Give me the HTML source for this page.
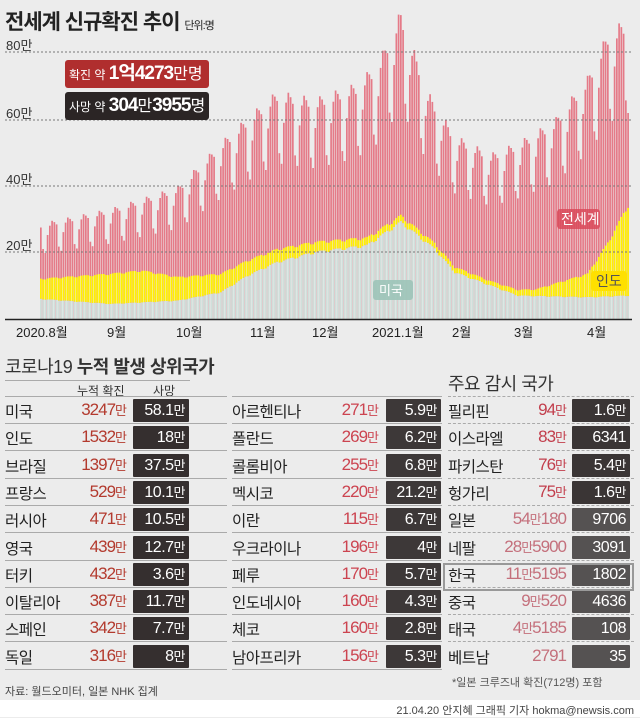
<!DOCTYPE html>
<html><head><meta charset="utf-8">
<style>
*{margin:0;padding:0;box-sizing:border-box}
body{width:640px;height:717px;background:#ececec;font-family:"Liberation Sans","Noto Sans CJK KR",sans-serif;position:relative;overflow:hidden;color:#222}
.a{position:absolute;white-space:nowrap}
.row{position:absolute;height:27px;font-size:15.5px;letter-spacing:-0.5px}
.row .n{position:absolute;left:0;top:3px}
.row .v{position:absolute;top:3px;text-align:right}
.row .b{position:absolute;top:2px;height:23px;color:#fff;text-align:right;padding-right:4px;font-size:16px;line-height:23px;border-radius:1px}
.m{font-size:13px}
</style></head><body>
<div class="a" style="left:5px;top:6px;font-size:21px;font-weight:bold;letter-spacing:-1px;color:#222">전세계 신규확진 추이 <span style="font-size:11px;font-weight:normal">단위:명</span></div>

<svg class="a" style="left:0;top:0" width="640" height="345" id="ch">
<g font-size="13" fill="#333" font-family="Liberation Sans,Noto Sans CJK KR,sans-serif">
<text x="6" y="50">80만</text><text x="6" y="118">60만</text><text x="6" y="184">40만</text><text x="6" y="250">20만</text>
</g>
<g id="bars"></g>
<g stroke="#777" stroke-dasharray="2,2" stroke-width="1">
<line x1="5" y1="52" x2="632" y2="52"/><line x1="5" y1="120" x2="632" y2="120"/><line x1="5" y1="186" x2="632" y2="186"/><line x1="5" y1="252" x2="632" y2="252"/>
</g>
<line x1="5" y1="319.5" x2="632" y2="319.5" stroke="#222" stroke-width="1.5"/>
<g font-size="13" fill="#222" font-family="Liberation Sans,Noto Sans CJK KR,sans-serif">
<text x="16" y="337">2020.8월</text><text x="107" y="337">9월</text><text x="176" y="337">10월</text><text x="250" y="337">11월</text><text x="312" y="337">12월</text><text x="372" y="337">2021.1월</text><text x="452" y="337">2월</text><text x="514" y="337">3월</text><text x="587" y="337">4월</text>
</g>
<rect x="557" y="209" width="43" height="20" rx="3" fill="#d94a5a" opacity="0.85"/>
<text x="561" y="224" font-size="14" fill="#fff" font-family="Liberation Sans,Noto Sans CJK KR,sans-serif">전세계</text>
<rect x="591" y="271" width="36" height="20" rx="3" fill="#ffe000"/>
<text x="596" y="286" font-size="14" fill="#555" font-family="Liberation Sans,Noto Sans CJK KR,sans-serif">인도</text>
<rect x="373" y="280" width="40" height="20" rx="3" fill="#9cc4b8" opacity="0.9"/>
<text x="379" y="295" font-size="13" fill="#fff" font-family="Liberation Sans,Noto Sans CJK KR,sans-serif">미국</text>
</svg>

<div class="a" style="left:65px;top:60px;width:144px;height:28px;background:#b02e2e;border-radius:3px;color:#fff;font-size:12px;line-height:28px;padding-left:4px">확진 약 <span style="font-size:19px;font-weight:bold;letter-spacing:-1px">1억4273</span><span style="font-size:16px">만명</span></div>
<div class="a" style="left:65px;top:92px;width:144px;height:28px;background:#2b2525;border-radius:3px;color:#fff;font-size:12px;line-height:28px;padding-left:4px">사망 약 <span style="font-size:19px;font-weight:bold;letter-spacing:-1px">304</span><span style="font-size:16px">만</span><span style="font-size:19px;font-weight:bold;letter-spacing:-1px">3955</span><span style="font-size:16px">명</span></div>

<div class="a" style="left:5px;top:353px;font-size:18px;letter-spacing:-0.5px;color:#333">코로나19 <b>누적 발생 상위국가</b></div>
<div class="a" style="left:448px;top:370px;font-size:18px;letter-spacing:-0.5px;color:#333">주요 감시 국가</div>
<div class="a" style="left:77px;top:382px;font-size:12px;color:#333">누적 확진</div>
<div class="a" style="left:153px;top:382px;font-size:12px;color:#333">사망</div>

<div id="tables"></div>

<div class="a" style="left:443px;top:563px;width:191px;height:28px;border:2px solid #999"></div>
<div class="a" style="left:452px;top:674px;font-size:11px;color:#555">*일본 크루즈내 확진(712명) 포함</div>
<div class="a" style="left:5px;top:683px;font-size:11px;color:#444">자료: 월드오미터, 일본 NHK 집계</div>
<div class="a" style="left:0;top:700px;width:640px;height:17px;background:#fff"></div>
<div class="a" style="right:6px;top:702px;font-size:11px;color:#444">21.04.20 안지혜 그래픽 기자 hokma@newsis.com</div>

<script>
function interp(k,d){for(var i=0;i<k.length-1;i++){if(d<=k[i+1][0]){var t=(d-k[i][0])/(k[i+1][0]-k[i][0]);return k[i][1]+t*(k[i+1][1]-k[i][1]);}}return k[k.length-1][1];}
var W=[[0,26],[31,30],[61,36],[80,48],[92,55],[105,62],[122,60],[140,64],[150,70],[160,84],[172,62],[184,50],[200,45],[212,48],[228,54],[243,66],[252,78],[261,82]];
var U=[[0,6],[31,4.5],[61,5.5],[80,8],[92,13],[105,17],[122,20],[145,22],[160,29],[175,21],[184,14],[212,7],[243,6.5],[261,7]];
var I=[[0,6],[31,9],[45,9.5],[61,7],[92,4.5],[122,3],[153,2],[200,1.3],[220,2],[243,7],[252,16],[261,27]];
var f=[1.05,0.8,0.75,0.95,1.05,1.1,1.08];
var s="",S=3.35,B=319,x0=40,dx=2.25;
for(var d=0;d<262;d++){var m=f[d%7];var w=interp(W,d)*m,u=interp(U,d)*(0.9+0.1*m),ii=interp(I,d)*(0.9+0.1*m);
var x=(x0+d*dx).toFixed(2);var hw=w*S,hu=u*S,hi=ii*S;
s+='<rect x="'+x+'" y="'+(B-hw).toFixed(1)+'" width="1.7" height="'+hw.toFixed(1)+'" fill="#e57a88"/>';
s+='<rect x="'+x+'" y="'+(B-hu-hi).toFixed(1)+'" width="1.7" height="'+hi.toFixed(1)+'" fill="#fff200"/>';
s+='<rect x="'+x+'" y="'+(B-hu).toFixed(1)+'" width="1.7" height="'+hu.toFixed(1)+'" fill="#cfe0db"/>';}
document.getElementById('bars').innerHTML=s;

var L=[["미국","3247","58.1만"],["인도","1532","18만"],["브라질","1397","37.5만"],["프랑스","529","10.1만"],["러시아","471","10.5만"],["영국","439","12.7만"],["터키","432","3.6만"],["이탈리아","387","11.7만"],["스페인","342","7.7만"],["독일","316","8만"]];
var M=[["아르헨티나","271","5.9만"],["폴란드","269","6.2만"],["콜롬비아","255","6.8만"],["멕시코","220","21.2만"],["이란","115","6.7만"],["우크라이나","196","4만"],["페루","170","5.7만"],["인도네시아","160","4.3만"],["체코","160","2.8만"],["남아프리카","156","5.3만"]];
var R=[["필리핀","94만","1.6만",0],["이스라엘","83만","6341",0],["파키스탄","76만","5.4만",0],["헝가리","75만","1.6만",0],["일본","54만180","9706",1],["네팔","28만5900","3091",1],["한국","11만5195","1802",1],["중국","9만520","4636",1],["태국","4만5185","108",1],["베트남","2791","35",1]];
function fmt(v){return v.replace(/만/g,'<span class="m">만</span>');}
var h="",top0=397,sp=27.3;
h+='<div class="a" style="left:5px;top:380px;width:185px;border-top:1px solid #aaa"></div>';
h+='<div class="a" style="left:5px;top:396px;width:222px;border-top:1px solid #aaa"></div>';
h+='<div class="a" style="left:232px;top:396px;width:210px;border-top:1px solid #aaa"></div>';
h+='<div class="a" style="left:448px;top:396px;width:186px;border-top:1px dashed #aaa"></div>';
for(var i=0;i<10;i++){var y=top0+i*sp;
h+='<div class="row" style="left:5px;top:'+y+'px;width:222px;border-bottom:1px solid #aaa"><span class="n">'+L[i][0]+'</span><span class="v" style="right:101px;color:#b33a2e;font-size:17px;letter-spacing:-1px">'+L[i][1]+'<span class="m">만</span></span><span class="b" style="left:128px;width:56px;background:#352f2f">'+fmt(L[i][2])+'</span></div>';
h+='<div class="row" style="left:232px;top:'+y+'px;width:210px;border-bottom:1px solid #aaa"><span class="n">'+M[i][0]+'</span><span class="v" style="right:64px;color:#cc4450;font-size:17px;letter-spacing:-1px">'+M[i][1]+'<span class="m">만</span></span><span class="b" style="left:154px;width:55px;background:#3d3838">'+fmt(M[i][2])+'</span></div>';
var lt=R[i][3];
h+='<div class="row" style="left:448px;top:'+y+'px;width:186px;'+(i<9?'border-bottom:1px dashed #aaa':'')+'"><span class="n">'+R[i][0]+'</span><span class="v" style="right:68px;color:'+(lt?'#c4707c':'#c23e4c')+';font-size:17px;letter-spacing:-1px">'+fmt(R[i][1])+'</span><span class="b" style="left:124px;width:58px;background:'+(lt?'#555252':'#3a3535')+'">'+fmt(R[i][2])+'</span></div>';}
document.getElementById('tables').innerHTML=h;
</script>
</body></html>
